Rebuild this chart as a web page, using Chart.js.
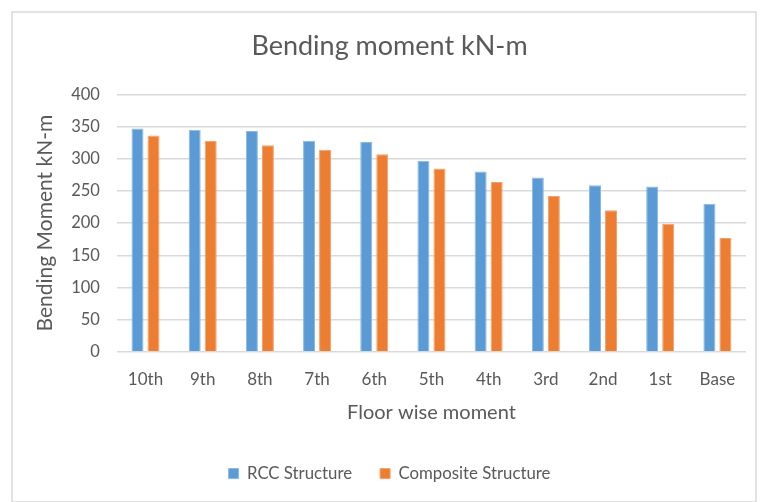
<!DOCTYPE html>
<html>
<head>
<meta charset="utf-8">
<script src="https://cdn.jsdelivr.net/npm/chart.js@4/dist/chart.umd.min.js"></script>
<style>
  html, body { margin: 0; padding: 0; background: #fff; }
  #wrap { position: relative; width: 772px; height: 502px; }
</style>
</head>
<body>
<div id="wrap"><canvas id="c" width="772" height="502"></canvas></div>
<script>
const categories = ["10th", "9th", "8th", "7th", "6th", "5th", "4th", "3rd", "2nd", "1st", "Base"];
const rccValues = [347, 345, 343, 328, 326, 297, 280, 271, 259, 257, 230];
const compositeValues = [336, 328, 321, 314, 307, 285, 264, 242, 220, 199, 177];
const yTicks = [0, 50, 100, 150, 200, 250, 300, 350, 400];

const FONT = "Lato, 'Open Sans', sans-serif";
const TXT = "#595959";

const borderPlugin = {
  id: 'outerBorder',
  beforeDraw(chart) {
    const ctx = chart.ctx;
    ctx.save();
    ctx.fillStyle = '#fff';
    ctx.fillRect(0, 0, chart.width, chart.height);
    ctx.strokeStyle = '#d9d9d9';
    ctx.lineWidth = 1.5;
    ctx.strokeRect(12, 12, 744, 490);
    ctx.restore();
  }
};

new Chart(document.getElementById('c'), {
  type: 'bar',
  data: {
    labels: categories,
    datasets: [
      { label: 'RCC Structure', data: rccValues, backgroundColor: '#5B9BD5', borderColor: '#8ab8e3', borderWidth: 1,
        categoryPercentage: 0.56, barPercentage: 0.75 },
      { label: 'Composite Structure', data: compositeValues, backgroundColor: '#ED7D31', borderColor: '#f3a06a', borderWidth: 1,
        categoryPercentage: 0.56, barPercentage: 0.75 }
    ]
  },
  options: {
    responsive: false,
    animation: false,
    devicePixelRatio: 1,
    layout: { padding: { left: 33, right: 26, top: 30, bottom: 10 } },
    plugins: {
      title: {
        display: true,
        text: 'Bending moment kN-m',
        color: TXT,
        font: { family: FONT, size: 27, weight: 'normal' },
        padding: { top: 0, bottom: 32 }
      },
      legend: {
        position: 'bottom',
        labels: {
          color: TXT,
          font: { family: FONT, size: 16.8 },
          boxWidth: 10,
          boxHeight: 10,
          padding: 28
        }
      },
      tooltip: { enabled: false }
    },
    scales: {
      x: {
        grid: { display: false },
        border: { display: false },
        ticks: { color: TXT, font: { family: FONT, size: 17 }, padding: 10, maxRotation: 0 },
        title: { display: true, text: 'Floor wise moment', color: TXT, font: { family: FONT, size: 20 }, padding: { top: 0, bottom: 13 } }
      },
      y: {
        min: 0,
        max: 400,
        afterBuildTicks(axis) { axis.ticks = yTicks.map(v => ({ value: v })); },
        grid: { color: '#d9d9d9', lineWidth: 1.5, drawTicks: false },
        border: { display: false },
        ticks: { color: TXT, font: { family: FONT, size: 16.5 }, padding: 17 },
        title: { display: true, text: 'Bending Moment kN-m', color: TXT, font: { family: FONT, size: 21 }, padding: { top: 0, bottom: -4 } }
      }
    }
  },
  plugins: [borderPlugin]
});
</script>
</body>
</html>
